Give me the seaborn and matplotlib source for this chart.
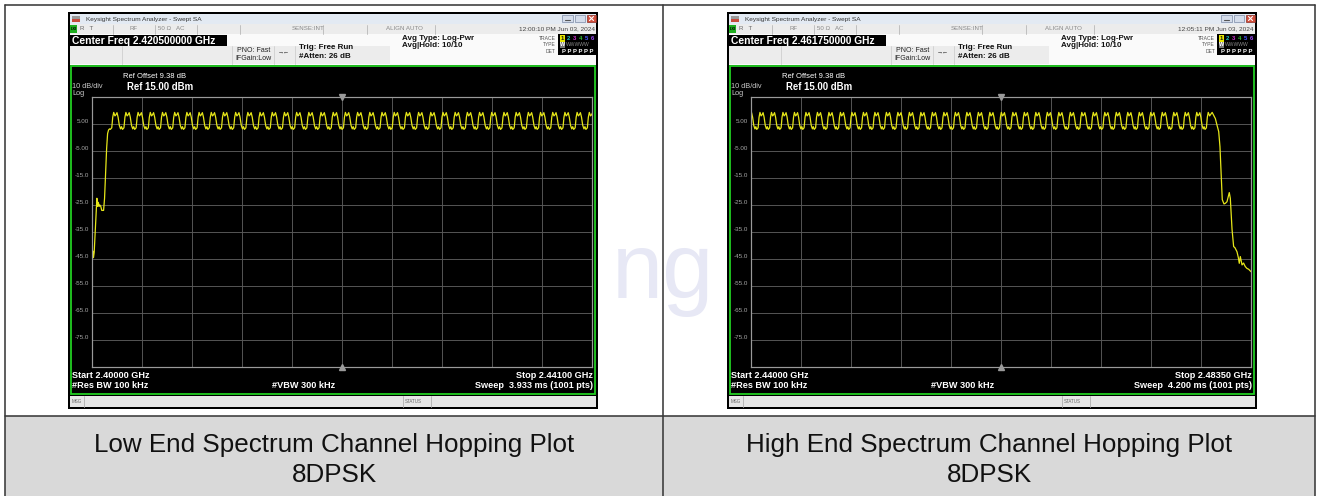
import matplotlib
matplotlib.use("Agg")
import matplotlib.pyplot as plt
from matplotlib.patches import Rectangle
import numpy as np
import pandas as pd
import seaborn as sns

# ---- data ----
low_start_ghz, low_stop_ghz = 2.400, 2.441
high_start_ghz, high_stop_ghz = 2.440, 2.4835
ref_level_dbm, bottom_dbm = 15.0, -85.0

level_ticks = [-85, -75, -65, -55, -45, -35, -25, -15, -5, 5, 15]
level_labels = ['', '-75.0', '-65.0', '-55.0', '-45.0', '-35.0', '-25.0', '-15.0', '-5.00', '5.00', '']

# shape of one hop channel (offset from channel centre in MHz, level in dBm)
hop_offset_mhz = [-0.50, -0.38, -0.30, -0.22, -0.12, -0.04, 0.05, 0.14, 0.24, 0.34, 0.42]
hop_level_dbm = [3.0, 3.6, 7.5, 9.3, 8.0, 8.4, 9.2, 7.5, 4.5, 3.2, 4.0]

low_channels_mhz = list(range(2402, 2442))
high_channels_mhz = list(range(2440, 2480))

low_edge_ghz = [2.40000, 2.40006, 2.40012, 2.40018, 2.40030, 2.40040, 2.40046, 2.40052,
                2.40058, 2.40064, 2.40072, 2.40080, 2.40095, 2.40103, 2.40112, 2.40120,
                2.40128, 2.40136, 2.40144]
low_edge_dbm = [-43.5, -42.0, -44.5, -42.5, -32.0, -22.5, -25.5, -24.0, -25.5, -25.0,
                -25.5, -27.0, -27.0, -22.5, -13.0, -4.0, 1.5, 2.8, 3.2]

high_tail_ghz = [2.47950, 2.47962, 2.47970, 2.47978, 2.47990, 2.48000, 2.48012, 2.48025,
                 2.48040, 2.48054, 2.48069, 2.48080, 2.48092, 2.48100, 2.48115, 2.48126,
                 2.48141, 2.48152, 2.48161, 2.48170, 2.48185, 2.48199, 2.48210, 2.48228,
                 2.48240, 2.48248, 2.48257, 2.48272, 2.48285, 2.48300, 2.48315, 2.48330,
                 2.48350]
high_tail_dbm = [3.0, 3.6, 7.5, 9.3, 8.0, 8.6, 9.3, 8.2, 7.0, 4.6, 2.2, -3.4, -15.0,
                 -23.0, -24.6, -24.4, -23.8, -22.0, -20.4, -22.5, -34.0, -40.4, -40.8,
                 -42.3, -44.5, -46.6, -44.1, -47.2, -46.5, -47.8, -48.5, -48.8, -49.7]

captions = ['Low End Spectrum Channel Hopping Plot\n8DPSK',
            'High End Spectrum Channel Hopping Plot\n8DPSK']


def hop_trace(channels, lead_f=(), lead_d=(), tail_f=(), tail_d=()):
    f, d = list(lead_f), list(lead_d)
    for ch in channels:
        for off, lv in zip(hop_offset_mhz, hop_level_dbm):
            f.append((ch + off) / 1000.0)
            d.append(lv)
    f += list(tail_f)
    d += list(tail_d)
    return pd.DataFrame({'freq_ghz': f, 'level_dbm': d})


panels = [
    dict(dx=0, trace=hop_trace(low_channels_mhz, low_edge_ghz, low_edge_dbm),
         start=low_start_ghz, stop=low_stop_ghz,
         center='Center Freq 2.420500000 GHz', stamp='12:00:10 PM Jun 03, 2024',
         start_txt='Start 2.40000 GHz', stop_txt='Stop 2.44100 GHz',
         sweep='Sweep  3.933 ms (1001 pts)'),
    dict(dx=659, trace=hop_trace(high_channels_mhz, tail_f=high_tail_ghz, tail_d=high_tail_dbm),
         start=high_start_ghz, stop=high_stop_ghz,
         center='Center Freq 2.461750000 GHz', stamp='12:05:11 PM Jun 03, 2024',
         start_txt='Start 2.44000 GHz', stop_txt='Stop 2.48350 GHz',
         sweep='Sweep  4.200 ms (1001 pts)'),
]

# ---- figure ----
W, H = 1319, 496
sns.set_theme(style="white")
plt.rcParams['font.family'] = ['Liberation Sans', 'DejaVu Sans']

fig = plt.figure(figsize=(W / 100, H / 100), dpi=100)
bg = fig.add_axes([0, 0, 1, 1])
bg.set_xlim(0, W)
bg.set_ylim(H, 0)
bg.axis('off')

PT = 0.72  # points per pixel at dpi 100


def box(x0, y0, x1, y1, fc, ec='none', lw=0, z=2):
    bg.add_patch(Rectangle((x0, y0), x1 - x0, y1 - y0, facecolor=fc,
                           edgecolor=ec, linewidth=lw, zorder=z))


def txt(x, y, s, px, color='#111111', weight='normal', ha='left', va='center', z=5, **kw):
    bg.text(x, y, s, fontsize=px * PT, color=color, fontweight=weight,
            ha=ha, va=va, zorder=z, **kw)


# faint watermark behind everything
bg.text(612, 298, 'ng', fontsize=92 * PT, color='#e7e8f5', zorder=0.5, ha='left', va='baseline')

# table: caption row and borders
box(5, 416, 1315, 496, '#d9d9d9', z=1)
line_kw = dict(color='#3a3a3a', lw=1.6 * PT, zorder=6)
bg.plot([5, 1315], [5, 5], **line_kw)
bg.plot([5, 1315], [416, 416], **line_kw)
bg.plot([5, 5], [5, 496], **line_kw)
bg.plot([1315, 1315], [5, 496], **line_kw)
bg.plot([663, 663], [5, 496], **line_kw)
for cx, cap in zip([334, 989], captions):
    txt(cx, 460, cap, 26, color='#111111', ha='center', linespacing=1.36)

for p in panels:
    dx = p['dx']
    X = lambda v: v + dx
    # window frame
    box(X(68), 12, X(598), 409, 'black')
    box(X(70), 14, X(596), 24, '#e3eaf3')
    box(X(72), 16, X(80), 19, '#9a9a9a', z=3)
    box(X(72), 19, X(80), 22, '#c84a3c', z=3)
    txt(X(86), 19, 'Keysight Spectrum Analyzer - Swept SA', 6.5, color='#333333')
    box(X(562), 15, X(573), 22, '#d4dcea', ec='#7c8aa6', lw=0.5)
    box(X(575), 15, X(585), 22, '#d4dcea', ec='#7c8aa6', lw=0.5)
    box(X(587), 15, X(596), 22, '#d2503e', ec='#8a3024', lw=0.5)
    bg.plot([X(565), X(570)], [20, 20], color='#555555', lw=0.8, zorder=4)
    bg.plot([X(589.5), X(593.5)], [16.5, 20.5], color='white', lw=0.8, zorder=4)
    bg.plot([X(589.5), X(593.5)], [20.5, 16.5], color='white', lw=0.8, zorder=4)

    # status row
    box(X(70), 24, X(596), 34, '#ececec')
    box(X(70), 25, X(77), 33, '#1fae1f', z=3)
    txt(X(73.5), 29, 'LXI', 4, color='black', ha='center', weight='bold')
    for sx in [113, 155, 197, 240, 323, 367, 435]:
        bg.plot([X(sx), X(sx)], [24.5, 33.5], color='#b8b8b8', lw=0.6, zorder=3)
    txt(X(80), 29, 'R   T', 6.2, color='#666666')
    txt(X(130), 29, 'RF', 6.2, color='#888888')
    txt(X(158), 29, '50 \u03a9   AC', 6.2, color='#888888')
    txt(X(292), 29, 'SENSE:INT', 6.2, color='#888888')
    txt(X(386), 29, 'ALIGN AUTO', 6.2, color='#888888')
    txt(X(595), 29, p['stamp'], 6.5, color='#444444', ha='right')

    # settings row
    box(X(70), 34, X(596), 65, '#fafafa')
    box(X(70), 46, X(390), 64, '#ececec')
    for sx in [122, 232, 274, 295]:
        bg.plot([X(sx), X(sx)], [46, 64], color='#cfcfcf', lw=0.6, zorder=3)
    box(X(70), 35, X(227), 46, 'black', z=3)
    txt(X(72), 40.5, p['center'], 10.2, color='white', weight='bold')
    txt(X(237), 50, 'PNO: Fast', 7, color='#222222')
    txt(X(235), 58.5, 'IFGain:Low', 7, color='#222222')
    txt(X(278), 51.5, '\u2192\u2190', 6, color='#222222')
    txt(X(299), 47.5, 'Trig: Free Run', 8, color='#111111', weight='bold')
    txt(X(299), 57, '#Atten: 26 dB', 8, color='#111111', weight='bold')
    txt(X(402), 38.5, 'Avg Type: Log-Pwr', 8, color='#111111', weight='bold')
    txt(X(402), 45.5, 'Avg|Hold: 10/10', 8, color='#111111', weight='bold')
    txt(X(556), 38, 'TRACE', 5, color='#555555', ha='right')
    txt(X(556), 45, 'TYPE', 5, color='#555555', ha='right')
    txt(X(556), 51.5, 'DET', 5, color='#555555', ha='right')
    box(X(558), 34, X(596), 55, 'black', z=3)
    box(X(559.5), 35, X(565), 41.5, '#e8e800', z=4)
    for i, c in enumerate(['#111111', '#20c8c8', '#d030d0', '#30c030', '#4a58ff', '#a048ff']):
        txt(X(562.3 + 6 * i), 38.3, str(i + 1), 6, color=c, weight='bold', ha='center')
    box(X(559.5), 42, X(565), 48, '#777777', z=4)
    txt(X(562.3), 45, 'W', 5.5, color='white', weight='bold', ha='center')
    txt(X(566), 45, 'WWWWW', 5, color='#8a8a8a')
    txt(X(577.5), 51.5, 'P P P P P P', 6, color='white', weight='bold', ha='center')

    # screen
    box(X(71), 66, X(595), 394, 'black', ec='#22d022', lw=1.8 * PT, z=3)
    txt(X(123), 77, 'Ref Offset 9.38 dB', 7.6, color='white')
    txt(X(127), 86.5, 'Ref 15.00 dBm', 9.6, color='white', weight='bold')
    txt(X(72), 87, '10 dB/div', 7.4, color='#c8c8c8')
    txt(X(72), 93.5, 'Log', 7.4, color='#c8c8c8')
    txt(X(72), 375, p['start_txt'], 9.2, color='white', weight='bold')
    txt(X(72), 386, '#Res BW 100 kHz', 9.2, color='white', weight='bold')
    txt(X(272), 386, '#VBW 300 kHz', 9.2, color='white', weight='bold')
    txt(X(593), 375, p['stop_txt'], 9.2, color='white', weight='bold', ha='right')
    txt(X(593), 386, p['sweep'], 9.2, color='white', weight='bold', ha='right')

    # message bar
    box(X(70), 396, X(596), 407, '#e6e6e6')
    for sx in [84, 403, 431]:
        bg.plot([X(sx), X(sx)], [396, 407], color='#b0b0b0', lw=0.6, zorder=3)
    txt(X(72), 401.5, 'MSG', 4.5, color='#666666')
    txt(X(405), 401.5, 'STATUS', 4.5, color='#666666')

    # graticule + trace
    gx0, gy0, gw, gh = X(92), 97, 500, 270
    ax = fig.add_axes([gx0 / W, 1 - (gy0 + gh) / H, gw / W, gh / H])
    ax.set_facecolor('black')
    sns.lineplot(data=p['trace'], x='freq_ghz', y='level_dbm', ax=ax,
                 color='#e6e619', lw=0.9, estimator=None, sort=False)
    ax.set_xlim(p['start'], p['stop'])
    ax.set_ylim(bottom_dbm, ref_level_dbm)
    ax.set_xticks(np.linspace(p['start'], p['stop'], 11))
    ax.set_xticklabels([])
    ax.set_yticks(level_ticks)
    ax.set_yticklabels(level_labels)
    for lab in ax.get_yticklabels():
        lab.set_verticalalignment('bottom')
    ax.tick_params(axis='both', length=0, pad=2.2, labelsize=6.3 * PT, labelcolor='#a8a8a8')
    ax.grid(True, color='#5c5c5c', lw=0.9 * PT)
    ax.set_axisbelow(True)
    for s in ax.spines.values():
        s.set_color('#9a9a9a')
        s.set_linewidth(1.2 * PT)
    ax.set_xlabel('')
    ax.set_ylabel('')
    xc = (p['start'] + p['stop']) / 2
    ax.plot([xc], [ref_level_dbm], marker='v', ms=4, color='#9a9a9a', clip_on=False, zorder=5)
    ax.plot([xc], [bottom_dbm], marker='^', ms=4, color='#9a9a9a', clip_on=False, zorder=5)

fig.savefig('out.png', dpi=100)
